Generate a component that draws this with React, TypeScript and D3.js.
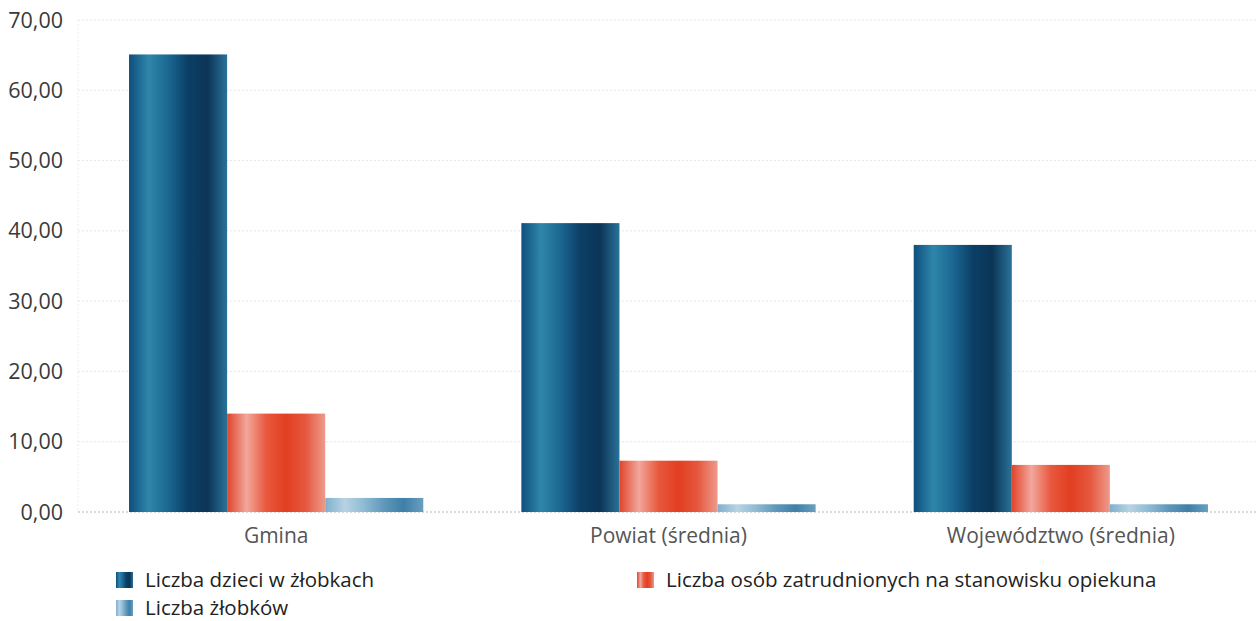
import React from "react";
import * as d3 from "d3";

const categories = ["Gmina", "Powiat (średnia)", "Województwo (średnia)"];
const seriesNames = [
  "Liczba dzieci w żłobkach",
  "Liczba osób zatrudnionych na stanowisku opiekuna",
  "Liczba żłobków",
];
const dzieci = [65.1, 41.1, 38.0];
const opiekunowie = [14.0, 7.3, 6.7];
const zlobki = [2.0, 1.1, 1.1];
const yTicks = [0, 10, 20, 30, 40, 50, 60, 70];

const W = 1257;
const H = 621;
const margin = { left: 80, right: 0, top: 20, bottom: 109 };

const gradients = [
  { id: "gBlue", stops: ["#0e4f7e", "#2f86aa", "#1b6792", "#0b3f66", "#0c3556", "#2a7299"] },
  { id: "gRed", stops: ["#e0452a", "#f2a79c", "#e8583d", "#e23e20", "#e5583f", "#ee9a8c"] },
  { id: "gLight", stops: ["#7fb0cc", "#b8d3e3", "#8dbad3", "#5f97ba", "#3f7fa8", "#6a9fc0"] },
];

export default function App() {
  const values = [dzieci, opiekunowie, zlobki];
  const x0 = d3
    .scaleBand<string>()
    .domain(categories)
    .range([margin.left, W - margin.right])
    .paddingInner(0.25)
    .paddingOuter(0.125);
  const x1 = d3
    .scaleBand<number>()
    .domain([0, 1, 2])
    .range([0, x0.bandwidth()]);
  const y = d3
    .scaleLinear()
    .domain([0, 70])
    .range([H - margin.bottom - 0, margin.top]);
  const fmt = (v: number) => v.toFixed(2).replace(".", ",");

  return (
    <svg width={W} height={H} style={{ display: "block", position: "absolute", left: 0, top: 0, background: "#fff" }}>
      <defs>
        {gradients.map((g) => (
          <linearGradient key={g.id} id={g.id} x1="0" x2="1" y1="0" y2="0">
            {g.stops.map((c, i) => (
              <stop key={i} offset={`${(i / (g.stops.length - 1)) * 100}%`} stopColor={c} />
            ))}
          </linearGradient>
        ))}
      </defs>
      {yTicks.map((t) => (
        <g key={t}>
          <line
            x1={margin.left - 2}
            x2={W}
            y1={y(t)}
            y2={y(t)}
            stroke={t === 0 ? "#b5b5b5" : "#e6e6e6"}
            strokeDasharray="2,2"
            strokeWidth={1}
          />
          <text
            x={63}
            y={y(t)}
            dy="0.35em"
            textAnchor="end"
            fontFamily="'Open Sans', sans-serif"
            fontSize={21.5}
            fill="#3a3a3a"
          >
            {fmt(t)}
          </text>
        </g>
      ))}
      <line x1={margin.left - 2} x2={margin.left - 2} y1={y(70)} y2={y(0)} stroke="#ececec" strokeDasharray="2,2" />
      {categories.map((c, ci) => (
        <g key={c} transform={`translate(${x0(c)},0)`}>
          {values.map((vals, si) => (
            <rect
              key={si}
              x={x1(si)}
              y={y(vals[ci])}
              width={x1.bandwidth()}
              height={y(0) - y(vals[ci])}
              fill={`url(#${gradients[si].id})`}
            />
          ))}
          <text
            x={x0.bandwidth() / 2}
            y={y(0) + 24}
            dy="0.35em"
            textAnchor="middle"
            fontFamily="'Open Sans', sans-serif"
            fontSize={21}
            fill="#555"
          >
            {c}
          </text>
        </g>
      ))}
      {[
        { si: 0, x: 116, y: 572 },
        { si: 2, x: 116, y: 600 },
        { si: 1, x: 637, y: 572 },
      ].map((l) => (
        <g key={l.si}>
          <rect x={l.x} y={l.y} width={17} height={16} fill={`url(#${gradients[l.si].id})`} />
          <text
            x={145 + (l.x - 116)}
            y={l.y + 8}
            dy="0.35em"
            fontFamily="'Open Sans', sans-serif"
            fontSize={20.5}
            fill="#222"
          >
            {seriesNames[l.si]}
          </text>
        </g>
      ))}
    </svg>
  );
}
